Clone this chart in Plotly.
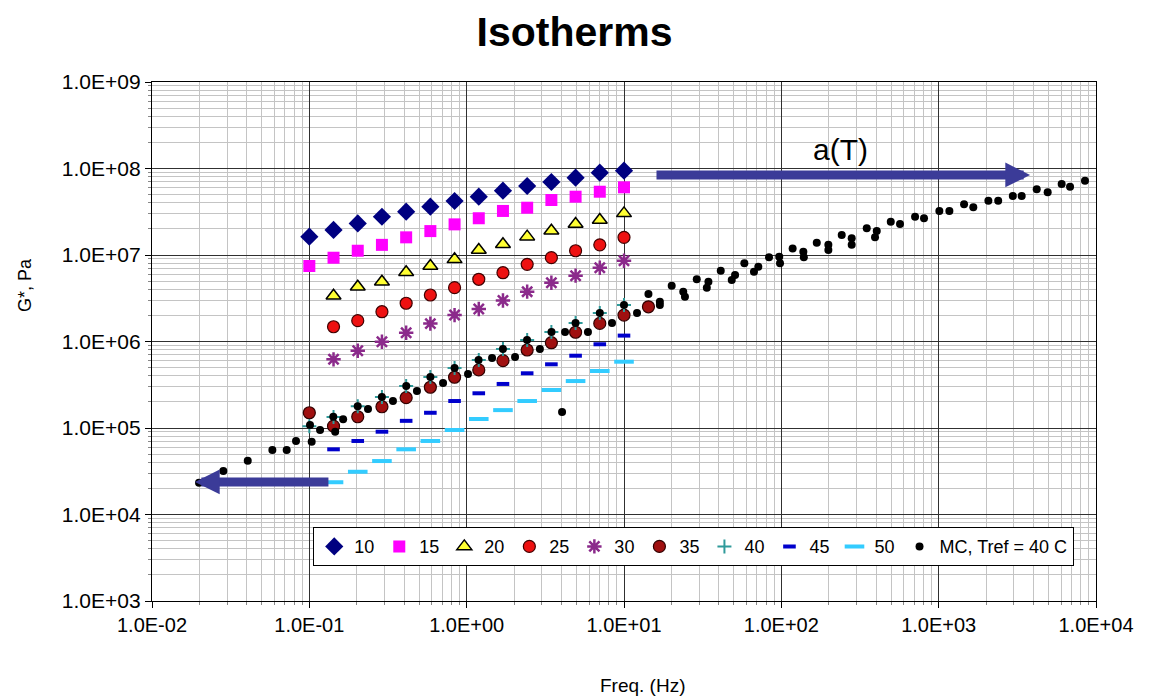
import plotly.graph_objects as go

# ---------------- data ----------------
FREQ = [0.1, 0.1425, 0.2031, 0.2894, 0.4125, 0.5878, 0.8377, 1.194, 1.701, 2.424, 3.455, 4.924, 7.017, 10.0]
FREQ_13 = FREQ[1:]
FREQ_35 = FREQ + [14.3]

G10 = [1.63e7, 1.95e7, 2.32e7, 2.77e7, 3.17e7, 3.62e7, 4.21e7, 4.72e7, 5.54e7, 6.28e7, 6.98e7, 7.83e7, 8.94e7, 9.43e7]
G15 = [7.46e6, 9.3e6, 1.12e7, 1.31e7, 1.60e7, 1.89e7, 2.26e7, 2.66e7, 3.23e7, 3.52e7, 4.32e7, 4.72e7, 5.39e7, 6.06e7]
G20 = [3.38e6, 4.30e6, 4.91e6, 6.31e6, 7.46e6, 8.91e6, 1.14e7, 1.33e7, 1.63e7, 1.91e7, 2.28e7, 2.54e7, 3.03e7]
G25 = [1.48e6, 1.74e6, 2.21e6, 2.77e6, 3.45e6, 4.19e6, 5.24e6, 6.24e6, 7.80e6, 9.31e6, 1.12e7, 1.31e7, 1.60e7]
G30 = [6.22e5, 7.83e5, 9.95e5, 1.26e6, 1.61e6, 2.02e6, 2.38e6, 2.98e6, 3.77e6, 4.78e6, 5.77e6, 7.13e6, 8.59e6]
G35 = [1.50e5, 1.05e5, 1.35e5, 1.76e5, 2.24e5, 2.96e5, 3.86e5, 4.69e5, 6.0e5, 7.97e5, 9.68e5, 1.28e6, 1.62e6, 2.02e6, 2.52e6]
G40 = [1.05e5, 1.34e5, 1.79e5, 2.28e5, 3.06e5, 3.89e5, 4.94e5, 6.11e5, 8.19e5, 1.04e6, 1.29e6, 1.64e6, 2.13e6, 2.64e6]
G45 = [5.67e4, 7.08e4, 9.06e4, 1.21e5, 1.50e5, 2.05e5, 2.52e5, 3.23e5, 4.29e5, 5.45e5, 6.85e5, 9.29e5, 1.17e6]
G50 = [2.36e4, 3.12e4, 4.15e4, 5.67e4, 7.08e4, 9.48e4, 1.27e5, 1.61e5, 2.05e5, 2.75e5, 3.49e5, 4.56e5, 5.84e5]

MC_F = [0.0199, 0.0284, 0.0406, 0.0582, 0.0718, 0.0823, 0.1035, 0.101, 0.117, 0.142, 0.164, 0.146,
        0.203, 0.289, 0.413, 0.588, 0.838, 1.19, 1.70, 2.42, 3.46, 4.92, 7.02, 10.0,
        0.236, 0.340, 0.483, 0.708, 1.02, 1.45, 2.03, 2.92, 4.22, 5.90, 8.39, 12.1, 4.04,
        14.3, 16.9, 16.9, 20.1, 23.8, 24.4, 29.0, 34.4, 33.6, 41.2, 48.4, 50.8, 58.2, 67.0, 71.4,
        83.5, 97.0, 98.1, 118, 138, 139, 168, 199, 199, 242, 280, 280, 349, 404, 394, 496, 568,
        708, 807, 1010, 1170, 1450, 1660, 2070, 2390, 2960, 3370, 4200, 4930, 6050, 6840, 8510]
MC_G = [2.33e4, 3.18e4, 4.19e4, 5.57e4, 5.57e4, 7.08e4, 6.95e4, 1.08e5, 9.48e4, 1.35e5, 1.26e5, 9.06e4,
        1.79e5, 2.28e5, 3.06e5, 3.89e5, 4.94e5, 6.11e5, 8.19e5, 1.04e6, 1.29e6, 1.64e6, 2.13e6, 2.64e6,
        1.66e5, 2.05e5, 2.68e5, 3.31e5, 4.21e5, 6.44e5, 6.62e5, 8.19e5, 1.29e6, 1.29e6, 1.64e6, 2.13e6, 1.53e5,
        3.54e6, 2.88e6, 2.64e6, 4.42e6, 3.77e6, 3.30e6, 5.24e6, 4.91e6, 4.19e6, 6.58e6, 5.14e6, 5.87e6, 8.02e6, 6.41e6, 7.32e6,
        9.40e6, 9.56e6, 8.02e6, 1.19e7, 1.09e7, 9.40e6, 1.39e7, 1.31e7, 1.14e7, 1.70e7, 1.56e7, 1.31e7, 2.04e7, 1.89e7, 1.60e7, 2.43e7, 2.28e7,
        2.77e7, 2.66e7, 3.23e7, 3.23e7, 3.85e7, 3.56e7, 4.25e7, 4.25e7, 4.81e7, 4.81e7, 5.75e7, 5.31e7, 6.62e7, 6.17e7, 7.22e7]

X_TICKS = [1e-2, 1e-1, 1e0, 1e1, 1e2, 1e3, 1e4]
X_TICKTEXT = ["1.0E-02", "1.0E-01", "1.0E+00", "1.0E+01", "1.0E+02", "1.0E+03", "1.0E+04"]
Y_TICKS = [1e3, 1e4, 1e5, 1e6, 1e7, 1e8, 1e9]
Y_TICKTEXT = ["1.0E+03", "1.0E+04", "1.0E+05", "1.0E+06", "1.0E+07", "1.0E+08", "1.0E+09"]

# ---------------- figure ----------------
FONT = "Arial, Liberation Sans, sans-serif"
fig = go.Figure()

def add(name, x, y, symbol, color, size, lw=1, lc="black"):
    fig.add_trace(go.Scatter(
        x=x, y=y, mode="markers", name=name,
        marker=dict(symbol=symbol, color=color, size=size, line=dict(width=lw, color=lc)),
    ))

add("10", FREQ, G10, "diamond", "#000080", 14, 0)
add("15", FREQ, G15, "square", "#ff00ff", 12, 0)
add("20", FREQ_13, G20, "triangle-up", "#ffff33", 13, 1.5, "black")
add("25", FREQ_13, G25, "circle", "#ee1111", 12, 1.2, "#400000")
add("30", FREQ_13, G30, "asterisk-open", "#8b2a8b", 12, 2.5)
add("35", FREQ_35, G35, "circle", "#a01010", 12, 1.2, "#300000")
add("40", FREQ, G40, "cross-thin-open", "#2f9a9a", 10, 2)
add("45", FREQ_13, G45, "line-ew-open", "#0000cc", 9, 4)
add("50", FREQ_13, G50, "line-ew-open", "#33ccff", 14, 4)
add("MC, Tref = 40 C", MC_F, MC_G, "circle", "black", 8, 0)

minor_x = [m * 10 ** e for e in range(-2, 4) for m in range(2, 10)]
minor_y = [m * 10 ** e for e in range(3, 9) for m in range(2, 10)]

axis_common = dict(
    type="log", showline=True, linecolor="black", linewidth=1.2, mirror=True,
    showgrid=True, gridcolor="#303030", gridwidth=1.2,
    ticks="outside", ticklen=6, tickcolor="black", zeroline=False,
)

fig.update_xaxes(
    **axis_common, range=[-2, 4], tickvals=X_TICKS, ticktext=X_TICKTEXT,
    tickfont=dict(family=FONT, size=20, color="black"),
    minor=dict(tickvals=minor_x, showgrid=True, gridcolor="#c4c4c4", gridwidth=1,
               ticks="outside", ticklen=3, tickcolor="#888"),
)
fig.update_yaxes(
    **axis_common, range=[3, 9], tickvals=Y_TICKS, ticktext=Y_TICKTEXT,
    tickfont=dict(family=FONT, size=21, color="black"),
    minor=dict(tickvals=minor_y, showgrid=True, gridcolor="#c4c4c4", gridwidth=1,
               ticks="outside", ticklen=3, tickcolor="#888"),
)

# axis titles (placed as in the reference, off-centre)
fig.add_annotation(x=0.52, y=-0.162, xref="paper", yref="paper", text="Freq. (Hz)", showarrow=False,
                   xanchor="center", yanchor="middle", font=dict(family=FONT, size=19, color="black"))
fig.add_annotation(x=-0.1345, y=0.609, xref="paper", yref="paper", text="G*, Pa", showarrow=False,
                   textangle=-90, xanchor="center", yanchor="middle",
                   font=dict(family=FONT, size=18, color="black"))

ARROW = "#3b3b98"
fig.add_annotation(x=3.581, y=7.925, ax=1.197, ay=7.925, xref="x", yref="y", axref="x", ayref="y",
                   showarrow=True, arrowhead=2, arrowsize=0.55, arrowwidth=9, arrowcolor=ARROW, text="")
fig.add_annotation(x=-1.727, y=4.376, ax=-0.869, ay=4.376, xref="x", yref="y", axref="x", ayref="y",
                   showarrow=True, arrowhead=2, arrowsize=0.55, arrowwidth=9, arrowcolor=ARROW, text="")
fig.add_annotation(x=2.373, y=8.214, xref="x", yref="y", text="a(T)", showarrow=False,
                   font=dict(family=FONT, size=30, color="black"))

fig.update_layout(
    width=1149, height=698,
    margin=dict(l=152, r=53, t=82, b=97),
    paper_bgcolor="white", plot_bgcolor="white",
    title=dict(text="Isotherms", x=0.5, xanchor="center", y=0.954, yanchor="middle",
               font=dict(family=FONT, size=41, color="black", weight=700)),
    legend=dict(orientation="h", x=0.1706, y=0.1426, xanchor="left", yanchor="top",
                bgcolor="white", bordercolor="black", borderwidth=1.2,
                font=dict(family=FONT, size=18, color="black"),
                itemwidth=30, tracegroupgap=0),
    showlegend=True,
)

fig.write_html("out.html")
